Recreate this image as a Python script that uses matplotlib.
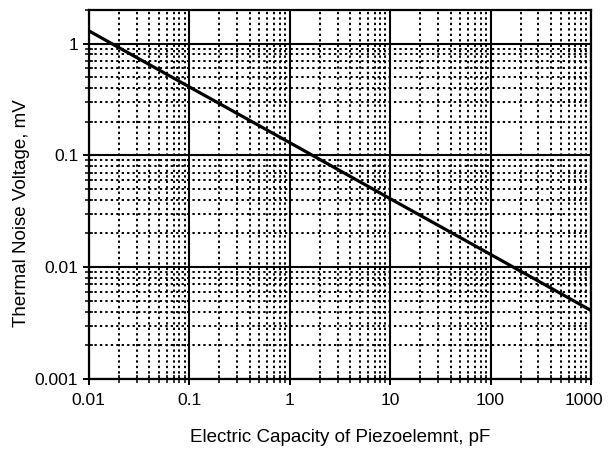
import matplotlib
matplotlib.use('Agg')
import matplotlib.pyplot as plt
import matplotlib.transforms as mtransforms
from matplotlib.ticker import LogLocator, FuncFormatter, NullFormatter

plt.rcParams['font.family'] = ['Liberation Sans', 'DejaVu Sans']

# capacity (pF) vs thermal noise voltage (mV)
capacity = [0.01, 0.1, 1, 10, 100, 1000]
voltage = [1.3, 0.41, 0.13, 0.041, 0.013, 0.0041]

xticks = [0.01, 0.1, 1, 10, 100, 1000]
yticks = [0.001, 0.01, 0.1, 1]

fig = plt.figure(figsize=(6.08, 4.49), dpi=100)
ax = fig.add_axes([0.146, 0.156, 0.826, 0.822])

ax.plot(capacity, voltage, color='black', lw=2.3, zorder=5)

ax.set_xscale('log')
ax.set_yscale('log')
ax.set_xlim(0.01, 1000)
ax.set_ylim(0.001, 2)

ax.set_xticks(xticks)
ax.set_yticks(yticks)
ax.xaxis.set_minor_locator(LogLocator(base=10, subs=range(2, 10), numticks=20))
ax.yaxis.set_minor_locator(LogLocator(base=10, subs=range(2, 10), numticks=20))
fmt = FuncFormatter(lambda v, p: '%g' % v)
ax.xaxis.set_major_formatter(fmt)
ax.yaxis.set_major_formatter(fmt)
ax.xaxis.set_minor_formatter(NullFormatter())
ax.yaxis.set_minor_formatter(NullFormatter())

ax.grid(which='major', color='black', lw=1.5, ls='-')
ax.grid(which='minor', color='black', lw=1.4, ls=(0, (1.2, 1.6)))

ax.tick_params(which='both', direction='inout', colors='black', labelsize=12.5)
ax.tick_params(which='major', length=8, width=1.4)
ax.tick_params(which='minor', length=6, width=1.1)
ax.tick_params(axis='x', pad=6)
for s in ax.spines.values():
    s.set_linewidth(1.6)

# last x label sits a bit to the left so it stays inside the figure
last = ax.xaxis.get_major_ticks()[-1].label1
last.set_transform(last.get_transform() +
                   mtransforms.ScaledTranslation(-7 / 100, 0, fig.dpi_scale_trans))

ax.set_xlabel('Electric Capacity of Piezoelemnt, pF', size=13.5, labelpad=15)
ax.set_ylabel('Thermal Noise Voltage, mV', size=13.5)
ax.yaxis.set_label_coords(-0.117, 0.45)

plt.savefig('out.png', dpi=100)
